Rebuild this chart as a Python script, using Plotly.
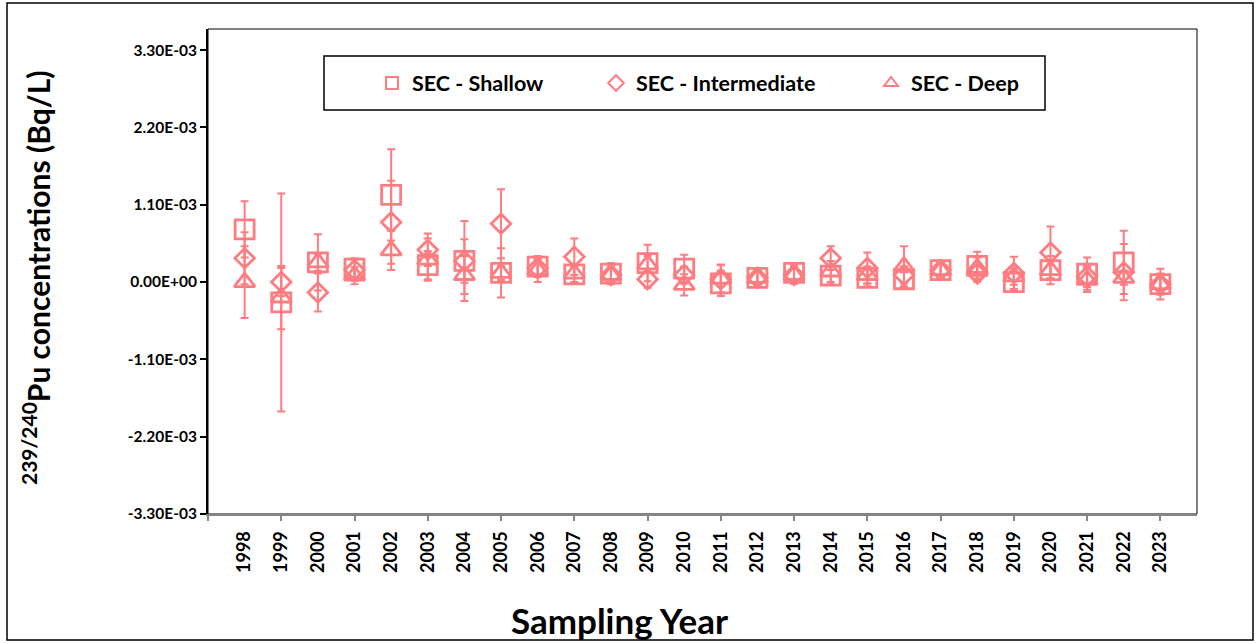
import plotly.graph_objects as go

years = list(range(1998, 2024))
year_labels = [str(y) for y in years]

# values in units of 1e-3 Bq/L
shallow = [0.75, -0.29, 0.28, 0.19, 1.24, 0.24, 0.30, 0.13, 0.22, 0.11, 0.12, 0.27, 0.19,
           -0.02, 0.06, 0.13, 0.09, 0.06, 0.04, 0.17, 0.23, 0.00, 0.17, 0.12, 0.28, -0.03]
shallow_err = [0.40, 1.55, 0.40, 0.15, 0.65, 0.20, 0.57, 0.35, 0.15, 0.12, 0.15, 0.26, 0.20,
               0.18, 0.12, 0.12, 0.12, 0.12, 0.10, 0.12, 0.20, 0.12, 0.20, 0.23, 0.45, 0.12]
intermediate = [0.34, 0.00, -0.15, 0.17, 0.85, 0.46, 0.30, 0.83, 0.20, 0.36, 0.10, 0.04, 0.10,
                0.04, 0.06, 0.10, 0.34, 0.20, 0.10, 0.17, 0.12, 0.13, 0.42, 0.08, 0.14, -0.03]
intermediate_err = [0.37, 0.20, 0.27, 0.15, 0.59, 0.23, 0.31, 0.49, 0.12, 0.26, 0.12, 0.12, 0.12,
                    0.20, 0.10, 0.12, 0.17, 0.22, 0.12, 0.12, 0.12, 0.23, 0.37, 0.15, 0.40, 0.15]
deep = [0.00, -0.22, 0.28, 0.09, 0.45, 0.32, 0.10, 0.13, 0.17, 0.12, 0.10, 0.25, -0.04,
        0.05, 0.06, 0.10, 0.15, 0.10, 0.22, 0.17, 0.20, 0.08, 0.17, 0.03, 0.06, -0.03]
deep_err = [0.51, 0.45, 0.12, 0.12, 0.28, 0.30, 0.27, 0.10, 0.17, 0.12, 0.12, 0.12, 0.15,
            0.20, 0.10, 0.12, 0.15, 0.12, 0.29, 0.12, 0.15, 0.12, 0.12, 0.17, 0.10, 0.22]

series_names = ["SEC - Shallow", "SEC - Intermediate", "SEC - Deep"]
ytick_vals = [-3.3, -2.2, -1.1, 0.0, 1.1, 2.2, 3.3]
ytick_text = ["-3.30E-03", "-2.20E-03", "-1.10E-03", "0.00E+00", "1.10E-03", "2.20E-03", "3.30E-03"]

COLOR = "#FF7C80"
FONT = "Lato"
S = 1e-3

W, H = 1259, 644
L, R, T, B = 208, 62, 29, 130
pw, ph = W - L - R, H - T - B


def px_x(px):
    return (px - L) / pw


def px_y(py):
    return (H - B - py) / ph


fig = go.Figure()
specs = [
    (shallow, shallow_err, "square-open", 19, "legend"),
    (intermediate, intermediate_err, "diamond-open", 15, "legend2"),
    (deep, deep_err, "triangle-up-open", 18, "legend3"),
]
for name, (vals, errs, sym, size, leg) in zip(series_names, specs):
    fig.add_trace(go.Scatter(
        x=years, y=[v * S for v in vals], mode="markers", name=name, legend=leg,
        marker=dict(symbol=sym, size=size, color=COLOR, line=dict(color=COLOR, width=2.8)),
        error_y=dict(type="data", array=[e * S for e in errs], visible=True,
                     color=COLOR, thickness=2, width=4),
    ))

# helper trace for the secondary x axis carrying the odd-year tick marks
fig.add_trace(go.Scatter(x=[1997], y=[None], xaxis="x2", showlegend=False,
                         hoverinfo="skip", mode="markers"))


def legend_at(px):
    return dict(orientation="h", x=px_x(px), y=px_y(83), xanchor="left", yanchor="middle",
                bgcolor="rgba(0,0,0,0)", borderwidth=0,
                font=dict(family=FONT, size=21.5, color="black", weight="bold"),
                itemsizing="constant")


fig.update_layout(
    width=W, height=H,
    margin=dict(l=L, r=R, t=T, b=B),
    paper_bgcolor="white", plot_bgcolor="white",
    font=dict(family=FONT, color="black"),
    showlegend=True,
    legend=legend_at(372),
    legend2=legend_at(596),
    legend3=legend_at(871),
    xaxis=dict(range=[1997, 2024], tickvals=years, ticktext=year_labels, tickangle=-90,
               ticks="", showgrid=False, zeroline=False, ticklabelstandoff=8,
               showline=True, linecolor="#868686", linewidth=2,
               tickfont=dict(family=FONT, size=18, color="black", weight="bold")),
    xaxis2=dict(range=[1997, 2024], overlaying="x", anchor="y", side="bottom",
                tickvals=list(range(1997, 2025, 2)), ticks="outside", ticklen=6,
                tickcolor="#868686", tickwidth=2, showticklabels=False,
                showgrid=False, zeroline=False, showline=False),
    yaxis=dict(range=[-3.3 * S, 3.6 * S], tickvals=[v * S for v in ytick_vals], ticktext=ytick_text,
               ticks="outside", ticklen=6, tickcolor="black", tickwidth=1.5,
               ticklabelstandoff=0,
               showgrid=False, zeroline=False, showline=True, linecolor="black", linewidth=2,
               tickfont=dict(family=FONT, size=15.5, color="black", weight="bold")),
    shapes=[
        dict(type="rect", xref="paper", yref="paper", x0=0, x1=1, y0=0, y1=1,
             line=dict(color="black", width=1), layer="below"),
        dict(type="rect", xref="paper", yref="paper", x0=px_x(324), x1=px_x(1045),
             y0=px_y(110), y1=px_y(56), line=dict(color="black", width=1.5)),
        dict(type="rect", xref="paper", yref="paper", x0=px_x(7), x1=px_x(1253),
             y0=px_y(640), y1=px_y(3), line=dict(color="black", width=1.5)),
    ],
    annotations=[
        dict(text="<sup>239/240</sup>Pu concentrations (Bq/L)", textangle=-90,
             xref="paper", yref="paper", x=px_x(36), y=px_y(278), showarrow=False,
             xanchor="center", yanchor="middle",
             font=dict(family=FONT, size=30, color="black", weight="bold")),
        dict(text="Sampling Year", xref="paper", yref="paper", x=px_x(619), y=px_y(620),
             showarrow=False, xanchor="center", yanchor="middle",
             font=dict(family=FONT, size=35, color="black", weight="bold")),
    ],
)

fig.write_html("out.html", config={"displayModeBar": False},
               post_script="document.body.style.margin='0px';")
